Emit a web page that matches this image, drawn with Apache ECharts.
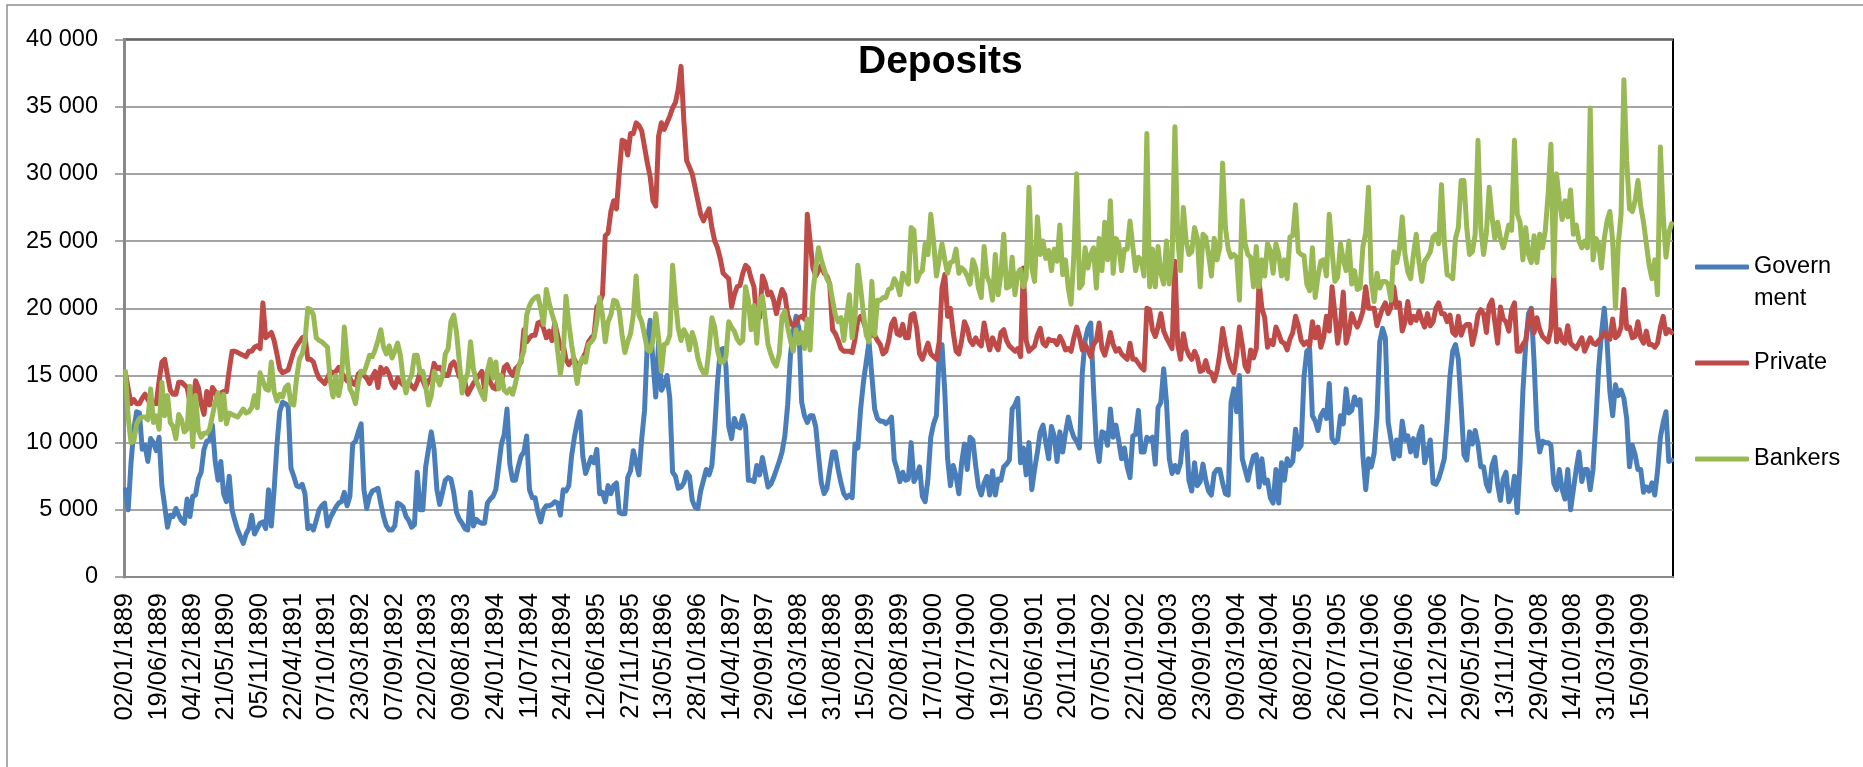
<!DOCTYPE html>
<html>
<head>
<meta charset="utf-8">
<script src="https://cdn.jsdelivr.net/npm/echarts@6/dist/echarts.min.js"></script>
<style>
html,body{margin:0;padding:0;background:#fff;}
#chart{width:1863px;height:767px;}
</style>
</head>
<body>
<div id="chart"></div>
<script>
// Fortnightly readings (thousands), starting 02/01/1889
const government = [
6.5,5.0,8.5,11.0,12.3,12.2,9.5,9.8,8.6,10.3,
10.0,9.4,10.4,6.8,5.3,3.7,4.6,4.5,5.1,4.6,
4.2,4.0,5.8,4.5,6.0,6.1,7.3,7.8,9.5,10.1,
10.2,11.3,8.6,7.2,8.6,6.2,5.6,7.5,5.0,4.2,
3.5,3.0,2.5,3.2,3.6,4.6,3.2,3.6,4.0,4.1,
3.6,6.5,3.8,6.5,9.8,12.3,13.0,12.9,12.7,8.1,
7.5,6.8,6.7,6.9,6.2,3.6,3.8,3.5,4.2,5.0,
5.3,5.5,3.8,4.4,4.8,5.2,5.5,5.6,6.3,5.3,
6.0,9.9,10.1,10.8,11.4,6.5,5.1,6.0,6.4,6.5,
6.6,5.5,4.5,3.8,3.5,3.5,3.8,5.5,5.4,5.2,
4.5,4.2,3.7,3.9,7.8,5.0,5.0,8.2,9.5,10.8,
9.5,6.5,5.4,6.3,7.2,7.4,7.3,6.3,4.8,4.3,
4.0,3.6,3.5,6.3,3.8,4.3,4.1,4.0,4.0,5.5,
5.8,6.0,6.5,8.2,9.9,10.6,12.5,8.4,7.2,7.2,
8.2,9.0,9.3,10.5,6.5,5.9,5.9,4.8,4.1,5.0,
5.3,5.3,5.4,5.6,5.5,4.6,6.5,6.4,6.8,9.0,
10.4,11.5,12.3,9.0,7.7,8.3,8.9,8.5,9.5,6.2,
6.3,5.6,6.8,6.2,6.8,7.0,4.8,4.7,4.7,7.4,
7.9,9.4,8.5,7.6,10.3,12.4,17.5,19.1,16.0,13.4,
17.5,13.9,14.3,15.0,13.3,7.8,7.5,6.6,6.7,7.0,
7.8,7.5,5.7,5.2,5.1,6.4,7.2,8.0,7.6,8.3,
11.0,14.5,16.9,17.0,15.7,11.2,10.3,11.8,11.2,11.1,
12.0,11.2,7.2,7.2,7.1,8.3,7.6,8.9,7.8,6.7,
6.9,7.4,8.0,8.6,9.3,10.5,12.8,16.5,18.3,19.4,
18.5,13.0,12.0,11.5,12.0,12.0,11.2,9.0,7.0,6.2,
6.6,8.0,9.3,9.3,8.0,7.0,6.2,5.9,6.1,5.9,
9.9,9.6,12.5,14.5,16.0,17.5,15.0,12.5,11.8,11.6,
11.6,11.4,11.6,11.9,8.7,8.0,7.1,7.8,7.2,7.3,
10.0,7.1,7.5,8.2,6.0,5.6,7.3,10.4,11.4,12.0,
16.6,17.3,13.8,8.8,6.8,8.3,7.5,6.2,8.5,9.9,
8.0,10.4,10.2,8.3,6.7,6.1,7.0,7.5,6.1,7.9,
6.1,7.3,7.2,8.2,8.4,8.7,12.5,12.8,13.3,8.5,
9.6,7.6,10.0,6.5,8.0,9.3,10.8,11.3,10.0,8.8,
11.2,10.5,8.6,10.8,9.3,10.7,11.9,11.0,10.4,10.1,
9.6,15.2,17.6,18.5,18.9,14.0,9.9,8.6,10.8,10.7,
9.8,12.5,10.4,11.3,10.1,8.8,9.6,8.2,7.4,10.5,
10.6,12.4,9.3,9.3,10.4,10.2,10.4,8.4,12.6,13.0,
15.5,13.0,8.8,7.7,8.3,7.8,8.5,10.6,10.8,7.2,
6.4,8.5,6.8,7.1,8.4,7.2,6.4,6.1,7.7,8.0,
8.0,7.0,6.2,6.1,13.0,14.0,12.3,15.0,8.8,8.0,
7.2,8.2,9.0,9.1,6.7,8.8,7.0,7.2,5.9,5.5,
8.0,5.5,8.5,7.2,8.8,8.3,8.6,11.0,9.5,9.8,
14.9,16.8,17.0,12.0,11.6,10.9,12.0,12.4,11.8,14.4,
10.3,10.0,10.2,12.0,11.4,14.0,12.2,12.4,13.4,12.8,
13.2,9.0,6.5,8.8,8.2,9.2,12.0,17.5,18.5,17.8,
11.5,10.2,8.8,10.2,9.0,11.6,10.2,10.5,9.3,10.3,
9.0,10.6,11.2,8.5,9.3,10.2,7.0,6.9,7.3,8.0,
8.8,11.5,14.9,16.8,17.3,16.2,12.8,9.1,8.7,10.8,
9.9,10.9,9.9,8.2,8.2,6.9,6.4,8.3,8.9,6.9,
5.7,7.3,7.8,5.6,6.1,7.5,4.8,8.5,13.8,17.3,
19.6,20.0,16.0,11.0,9.3,10.1,10.0,10.0,9.8,7.0,
6.5,8.0,6.5,5.8,8.0,5.0,6.5,8.0,9.3,7.1,
8.0,8.0,6.5,8.0,11.5,15.5,18.1,20.0,17.5,13.8,
12.0,14.3,13.5,13.9,13.3,11.8,8.2,9.8,9.1,8.0,
8.0,6.3,6.7,6.4,7.0,6.1,7.9,10.4,11.5,12.3,
8.6,8.7
];
const privateDeposits = [
15.2,14.0,12.9,13.2,12.9,12.9,13.3,13.6,13.2,12.8,
13.0,12.9,14.6,16.0,16.2,15.0,13.9,13.6,13.6,14.5,
14.5,14.3,14.1,13.0,12.8,14.6,14.1,12.9,12.1,13.8,
12.8,14.1,13.8,13.3,13.7,13.8,13.8,15.4,16.8,16.8,
16.7,16.6,16.5,16.4,16.8,16.8,17.1,17.2,17.0,20.4,
17.8,18.0,18.2,17.6,16.6,15.5,15.2,15.3,15.4,16.1,
16.8,17.2,17.5,17.8,17.9,16.2,16.2,16.0,15.3,14.8,
14.6,14.4,14.8,15.3,15.2,15.3,15.6,15.2,14.9,14.6,
14.8,14.4,14.3,15.1,15.3,15.0,14.8,14.4,14.9,15.3,
14.1,15.6,15.2,15.5,15.1,14.4,14.1,14.8,14.5,14.3,
14.2,14.5,14.2,14.0,14.5,15.2,14.6,14.1,14.6,14.8,
15.9,15.5,15.6,15.3,15.0,15.0,15.8,16.0,15.6,14.9,
14.7,14.5,13.6,14.0,14.4,14.7,15.0,15.3,14.0,15.3,
14.5,14.1,14.0,15.0,14.5,15.6,15.8,15.3,15.0,15.5,
15.7,16.0,18.4,17.5,17.8,18.0,18.0,18.9,19.0,18.5,
17.8,18.3,17.6,18.9,18.0,17.0,17.3,16.2,15.8,16.1,
16.2,15.7,15.8,16.3,16.7,17.5,17.8,18.0,20.1,20.4,
21.0,25.4,25.6,27.2,28.0,27.4,30.1,32.5,32.4,31.4,
33.0,33.0,33.8,33.6,33.2,32.0,30.8,29.8,28.0,27.6,
32.8,33.8,33.3,33.8,34.3,34.9,35.3,36.3,38.0,34.0,
31.0,30.5,30.0,29.0,28.0,27.0,26.5,27.0,27.4,26.0,
25.0,24.5,23.7,22.6,22.4,22.2,20.1,21.0,21.6,21.7,
22.6,23.2,23.0,22.2,21.6,19.2,19.3,22.4,21.9,21.0,
21.2,20.6,19.6,20.6,21.4,21.0,19.5,18.9,18.7,18.9,
19.3,19.4,19.2,27.0,25.0,23.0,22.4,22.8,23.2,22.6,
22.4,21.8,18.4,18.1,17.6,17.0,16.8,16.8,16.8,16.7,
17.7,19.1,19.4,19.0,18.4,17.9,18.0,18.0,17.6,17.3,
16.6,16.8,17.6,18.8,19.2,18.1,18.0,18.8,17.8,17.8,
19.5,19.6,18.5,16.6,16.2,16.8,17.4,16.6,16.4,16.2,
17.5,21.5,22.5,19.4,20.0,18.2,16.8,16.6,17.6,19.0,
18.5,17.6,17.3,17.8,17.4,17.2,18.9,17.8,16.9,17.8,
17.3,16.9,18.2,18.4,17.6,17.2,17.0,16.8,17.0,16.4,
23.0,17.6,16.8,17.0,17.2,18.0,18.5,17.4,17.2,17.7,
17.6,17.6,17.3,17.9,17.5,16.9,17.0,16.8,17.8,18.6,
17.9,16.9,17.3,16.9,16.4,17.3,17.6,18.9,17.0,16.5,
17.3,18.2,17.3,16.8,17.0,16.6,16.4,16.2,17.4,16.2,
16.2,15.9,15.6,15.4,20.0,19.9,18.4,17.9,18.6,19.6,
18.3,17.8,17.4,17.0,23.5,17.3,16.2,18.1,17.0,16.5,
16.2,16.8,16.3,15.3,15.4,16.1,15.3,15.2,14.6,15.3,
16.6,18.5,17.3,16.3,15.6,15.2,16.6,18.6,17.3,15.7,
15.3,16.9,16.3,17.0,22.0,20.0,19.3,17.1,17.6,17.3,
18.6,18.1,17.5,17.4,16.9,17.7,18.2,19.4,18.7,17.6,
17.3,17.5,17.2,19.0,17.8,18.6,17.1,17.8,19.4,18.3,
21.6,19.6,17.4,18.8,21.2,17.4,18.2,19.6,19.0,18.6,
19.1,19.8,21.6,20.0,20.0,20.0,18.7,19.4,20.0,20.4,
19.6,20.1,21.6,20.1,20.4,18.3,19.0,20.5,18.9,19.4,
19.1,19.8,19.1,18.6,19.6,18.7,19.0,20.0,20.4,19.6,
19.6,19.0,19.5,18.2,18.0,19.4,18.0,18.6,18.8,18.8,
17.3,18.2,19.5,19.9,19.6,18.2,20.2,20.6,19.0,17.4,
20.1,19.2,19.0,18.3,19.9,20.4,16.8,16.8,17.3,17.6,
19.0,19.9,18.2,19.3,18.4,17.9,17.7,17.5,18.5,22.6,
17.5,18.4,17.6,17.4,18.7,17.4,17.2,17.0,17.4,17.8,
16.8,17.3,17.8,17.4,17.3,17.6,17.8,18.2,17.9,17.7,
19.2,17.8,18.0,18.6,21.4,18.5,18.6,17.8,17.9,19.0,
17.8,17.4,18.3,17.3,17.3,17.1,17.4,18.6,19.4,18.1,
18.4,18.2
];
const bankers = [
15.3,11.9,10.0,10.1,11.4,11.8,11.9,11.9,11.7,14.0,
11.5,12.0,11.0,14.5,12.0,13.5,11.5,11.2,10.3,12.1,
11.7,10.8,11.0,14.2,9.7,13.5,10.9,10.4,10.7,10.7,
11.0,12.0,13.0,13.7,11.7,13.6,11.4,12.2,12.1,12.0,
11.9,12.2,12.5,12.2,12.3,12.6,13.5,12.6,15.2,14.6,
14.0,13.9,16.0,13.8,13.1,13.6,13.4,14.1,14.3,12.9,
12.8,14.8,16.2,16.6,17.6,20.0,19.9,19.5,17.8,17.6,
17.5,17.3,17.1,14.6,13.4,15.0,13.5,14.6,18.6,16.2,
14.0,13.6,12.9,14.5,15.3,15.2,15.8,16.5,16.4,16.9,
17.6,18.4,17.1,16.6,17.2,16.3,16.8,17.4,16.5,14.7,
13.7,14.6,15.0,16.5,16.5,15.2,15.3,14.2,12.8,13.5,
15.3,14.8,14.3,14.9,16.6,17.0,19.0,19.5,18.2,16.0,
13.7,14.6,15.2,17.5,15.5,14.6,14.1,13.6,13.2,15.3,
16.2,14.8,16.0,14.0,15.0,13.9,13.7,14.0,13.6,14.4,
15.5,16.2,16.8,19.5,20.2,20.6,20.8,20.9,20.0,18.8,
21.4,20.4,19.6,18.9,16.9,15.1,16.5,20.9,18.9,17.3,
16.0,14.4,15.9,16.3,16.0,17.3,17.5,17.8,19.0,20.8,
19.5,17.5,19.0,19.5,20.6,20.5,19.8,18.0,16.7,17.5,
18.1,19.5,22.4,19.5,19.0,18.0,16.9,16.8,17.6,19.6,
17.8,15.3,17.3,17.4,18.0,23.2,20.6,18.5,17.6,18.4,
18.0,16.9,18.2,17.5,16.3,15.6,15.2,15.2,17.0,19.3,
18.6,16.9,16.0,16.0,16.4,19.0,18.6,18.3,17.7,17.4,
17.6,21.6,20.6,18.4,20.2,17.4,20.5,20.9,19.2,17.3,
16.6,16.0,15.7,16.6,19.4,19.8,18.6,17.6,16.8,18.4,
17.4,18.2,17.0,19.2,16.9,21.2,23.0,24.5,23.6,22.9,
22.2,21.8,20.6,19.5,19.0,19.3,17.6,19.4,21.0,17.8,
19.3,23.2,21.5,19.6,18.0,17.5,22.0,18.0,20.6,20.6,
20.8,20.8,21.4,21.5,22.2,21.8,21.0,22.6,22.2,21.8,
26.0,25.8,22.0,22.6,22.8,24.8,24.0,27.0,25.0,22.4,
23.6,24.8,23.6,22.6,23.4,23.5,24.4,22.6,23.0,22.8,
22.4,21.8,23.6,23.0,21.5,20.8,24.6,22.4,21.9,20.6,
24.0,21.0,22.6,25.5,21.5,21.6,23.8,21.0,22.6,22.9,
21.6,22.3,29.0,23.0,22.0,26.8,24.0,25.0,23.7,24.3,
22.8,24.4,23.5,26.2,22.5,23.6,21.5,20.3,24.0,30.0,
21.5,21.8,24.5,23.0,24.0,24.5,21.5,25.2,22.8,26.4,
23.6,28.0,22.6,25.2,24.8,22.8,24.4,24.4,26.5,24.6,
22.8,23.8,23.6,22.4,33.0,21.6,24.4,21.6,24.6,22.6,
21.8,25.0,21.8,23.8,33.5,25.2,22.8,27.5,25.0,24.0,
24.2,26.0,25.2,21.6,25.5,25.3,24.0,22.4,25.2,23.6,
24.5,30.8,26.0,24.4,23.8,24.0,23.8,20.6,28.0,24.8,
24.0,23.8,21.6,24.6,21.6,23.6,22.4,24.8,24.3,22.6,
24.8,24.0,22.4,23.6,22.2,25.3,25.4,27.7,24.2,24.0,
23.9,21.8,21.3,24.5,20.8,22.4,23.5,23.6,22.4,27.0,
24.3,22.0,22.3,24.8,23.6,22.8,25.0,21.8,22.8,21.4,
21.5,24.6,25.6,29.0,22.0,20.5,22.6,21.5,22.0,22.0,
21.8,20.6,24.2,23.4,24.4,26.8,24.0,22.7,22.2,24.0,
25.5,23.4,22.0,23.5,23.8,24.2,25.3,25.5,24.8,29.2,
25.0,22.5,22.4,22.2,25.2,26.0,29.5,29.5,26.0,24.0,
24.2,25.5,32.5,26.0,24.0,25.6,29.0,26.8,25.2,26.4,
25.2,24.5,25.3,26.2,25.8,32.5,27.0,26.4,23.6,26.0,
24.0,23.4,25.4,23.4,25.5,24.5,25.8,28.5,32.2,22.4,
30.0,28.0,26.6,28.0,26.8,28.8,25.5,26.2,25.0,24.5,
25.0,24.5,34.9,23.6,25.2,24.8,23.0,25.2,26.5,27.2,
25.0,20.0,24.8,27.0,37.0,31.0,27.4,27.2,28.0,29.5,
27.6,26.4,24.8,23.2,22.2,23.6,21.0,32.0,27.0,23.8,
25.6,26.3
];
const tickLabels = [
'02/01/1889','19/06/1889','04/12/1889','21/05/1890','05/11/1890','22/04/1891',
'07/10/1891','23/03/1892','07/09/1892','22/02/1893','09/08/1893','24/01/1894',
'11/07/1894','24/12/1894','12/06/1895','27/11/1895','13/05/1896','28/10/1896',
'14/04/1897','29/09/1897','16/03/1898','31/08/1898','15/02/1899','02/08/1899',
'17/01/1900','04/07/1900','19/12/1900','05/06/1901','20/11/1901','07/05/1902',
'22/10/1902','08/04/1903','23/09/1903','09/03/1904','24/08/1904','08/02/1905',
'26/07/1905','10/01/1906','27/06/1906','12/12/1906','29/05/1907','13/11/1907',
'29/04/1908','14/10/1908','31/03/1909','15/09/1909'
];
const yTicks = [0,5,10,15,20,25,30,35,40]; // thousands
const seriesNames = ['Government','Private','Bankers'];
const seriesColors = ['#4A7EBB','#BE4B48','#98B954'];
const LABEL_STEP = 12; // one label every 24 weeks

// category axis: fortnight dates from 02/01/1889
const start = Date.UTC(1889,0,2);
const pad = n => String(n).padStart(2,'0');
const categories = government.map((_, i) => {
  const d = new Date(start + i*14*86400000);
  return pad(d.getUTCDate()) + '/' + pad(d.getUTCMonth()+1) + '/' + d.getUTCFullYear();
});

const chart = echarts.init(document.getElementById('chart'), null, {renderer:'canvas'});
const legendFont = {fontFamily:'Liberation Sans', fontSize:23.5, color:'#000', lineHeight:32};
function legendAt(name, top, formatter){
  return {
    data:[name], orient:'vertical', left:1695, top:top, padding:0,
    itemWidth:54, itemHeight:5, icon:'roundRect',
    textStyle:legendFont, formatter:formatter || '{name}'
  };
}
chart.setOption({
  animation:false,
  backgroundColor:'#fff',
  title:{
    text:'Deposits', left:853, top:38,
    textStyle:{fontFamily:'Liberation Sans', fontWeight:'bold', fontSize:39, color:'#000'}
  },
  graphic:[{
    type:'rect', shape:{x:7, y:5, width:1900, height:800},
    style:{fill:'none', stroke:'#8e8e8e', lineWidth:1.5}, silent:true, z:-10
  }],
  legend:[
    legendAt('Government', 219, () => ' \nGovern\nment'),
    legendAt('Private', 347),
    legendAt('Bankers', 443)
  ],
  grid:{left:124, right:190, top:39.5, bottom:190, show:true, borderColor:'#000', borderWidth:2, backgroundColor:'transparent'},
  xAxis:{
    type:'category', data:categories, boundaryGap:true,
    axisLine:{lineStyle:{color:'#8a8a8a', width:2}},
    axisTick:{interval:0, length:7, lineStyle:{color:'#8a8a8a', width:3}},
    axisLabel:{
      interval:LABEL_STEP-1, rotate:90, margin:16, color:'#000',
      fontFamily:'Liberation Sans', fontSize:25.5,
      formatter:(v, i) => tickLabels[Math.round(i/LABEL_STEP)] || ''
    },
    splitLine:{show:false}
  },
  yAxis:{
    type:'value', min:yTicks[0], max:yTicks[yTicks.length-1], interval:yTicks[1]-yTicks[0],
    axisLine:{show:true, lineStyle:{color:'#8a8a8a', width:3}},
    axisTick:{show:true, length:9, lineStyle:{color:'#8a8a8a', width:1.5}},
    axisLabel:{margin:26, color:'#000', fontFamily:'Liberation Sans', fontSize:23.5,
      formatter:v => v === 0 ? '0' : v + ' 000'},
    splitLine:{lineStyle:{color:'#868686', width:1.5}}
  },
  series:[government, privateDeposits, bankers].map((arr, k) => ({
    name:seriesNames[k], type:'line', data:arr, showSymbol:false, symbol:'none',
    color:seriesColors[k],
    lineStyle:{width:5, color:seriesColors[k], join:'round', cap:'round'},
    z:2+k
  }))
});
</script>
</body>
</html>
